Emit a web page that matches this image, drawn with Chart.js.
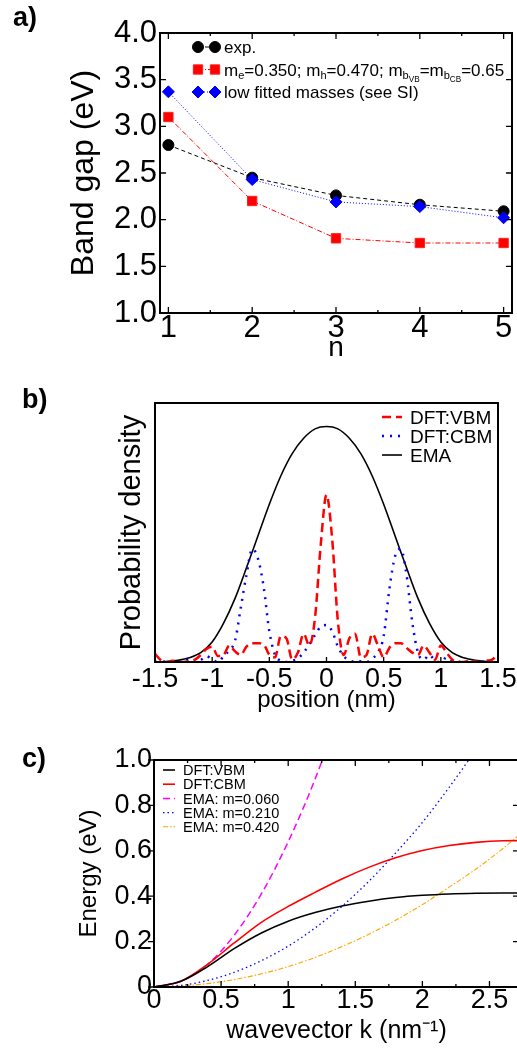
<!DOCTYPE html>
<html>
<head>
<meta charset="utf-8">
<script src="https://cdn.jsdelivr.net/npm/chart.js@4.4.1/dist/chart.umd.min.js"></script>
<style>
  html, body { margin: 0; padding: 0; background: #fff; overflow: hidden; }
  #page { position: relative; width: 517px; height: 1053px; overflow: hidden; }
  canvas { position: absolute; left: 0; }
  .tag { position: absolute; font: bold 27px 'Liberation Sans', Arial, sans-serif; line-height: 27px; }
</style>
</head>
<body>
<div id="page">
  <canvas id="bandgap" width="540" height="370" style="top:0"></canvas>
  <canvas id="density" width="540" height="370" style="top:350px"></canvas>
  <canvas id="dispersion" width="540" height="333" style="top:720px"></canvas>
  <div class="tag" style="left:13px;top:4px">a)</div>
  <div class="tag" style="left:22px;top:386px">b)</div>
  <div class="tag" style="left:22px;top:745px">c)</div>
</div>
<script>
// --- panel a: band gap vs n
const nValues = [1, 2, 3, 4, 5];
const expGap = [2.80, 2.45, 2.26, 2.16, 2.09];
const fitGap = [3.10, 2.20, 1.80, 1.75, 1.75];
const lowGap = [3.37, 2.43, 2.19, 2.14, 2.02];
const nTicks = [1, 2, 3, 4, 5];
const gapTicks = [1.0, 1.5, 2.0, 2.5, 3.0, 3.5, 4.0];
const fitLabel = [['m', 0], ['e', 1], ['=0.350; m', 0], ['h', 1], ['=0.470; m', 0], ['b', 1], ['VB', 2],
  ['=m', 0], ['b', 1], ['CB', 2], ['=0.65', 0]];

// --- panel b: probability density vs position
const emaPos = [-1.5, -1.4, -1.3, -1.2, -1.1, -1.0, -0.9, -0.8, -0.7, -0.6, -0.5, -0.4, -0.3, -0.2, -0.1, 0,
  0.1, 0.2, 0.3, 0.4, 0.5, 0.6, 0.7, 0.8, 0.9, 1.0, 1.1, 1.2, 1.3, 1.4, 1.5];
const emaDensity = [0.0, 0.002, 0.007, 0.018, 0.04, 0.085, 0.165, 0.27, 0.4, 0.535, 0.67, 0.79, 0.885, 0.95, 0.99, 1.0,
  0.99, 0.95, 0.885, 0.79, 0.67, 0.535, 0.4, 0.27, 0.165, 0.085, 0.04, 0.018, 0.007, 0.002, 0.0];
const dftPos = [-1.5, -1.45, -1.4, -1.35, -1.3, -1.25, -1.2, -1.15, -1.1, -1.05,
  -1.0, -0.95, -0.9, -0.85, -0.8, -0.75, -0.7, -0.65, -0.6, -0.55,
  -0.5, -0.45, -0.4, -0.35, -0.3, -0.25, -0.2, -0.15, -0.1, -0.05,
  0,
  0.05, 0.1, 0.15, 0.2, 0.25, 0.3, 0.35, 0.4, 0.45, 0.5,
  0.55, 0.6, 0.65, 0.7, 0.75, 0.8, 0.85, 0.9, 0.95, 1.0,
  1.05, 1.1, 1.15, 1.2, 1.25, 1.3, 1.35, 1.4, 1.45, 1.5];
const vbmDensity = [0.035, 0.008, 0.0, 0.005, 0.003, 0.0, 0.004, 0.01, 0.03, 0.055,
  0.065, 0.025, 0.03, 0.07, 0.045, 0.03, 0.065, 0.08, 0.08, 0.075,
  0.03, 0.02, 0.11, 0.10, 0.01, 0.04, 0.12, 0.07, 0.19, 0.5,
  0.71,
  0.52, 0.17, 0.03, 0.10, 0.12, 0.02, 0.03, 0.12, 0.07, 0.02,
  0.06, 0.08, 0.08, 0.06, 0.04, 0.03, 0.07, 0.04, 0.01, 0.07,
  0.04, 0.01, 0.002, 0.0, 0.004, 0.002, 0.0, 0.005, 0.01, 0.035];
const cbmDensity = [0.0, 0.0, 0.002, 0.0, 0.004, 0.0, 0.012, 0.0, 0.008, 0.025,
  0.01, 0.0, 0.025, 0.05, 0.09, 0.23, 0.37, 0.48, 0.44, 0.32,
  0.13, 0.03, 0.005, 0.0, 0.005, 0.015, 0.04, 0.075, 0.115, 0.15,
  0.157,
  0.13, 0.065, 0.025, 0.008, 0.0, 0.003, 0.0, 0.015, 0.04, 0.11,
  0.31, 0.45, 0.48, 0.37, 0.17, 0.04, 0.01, 0.03, 0.005, 0.0,
  0.02, 0.005, 0.0, 0.004, 0.0, 0.0, 0.003, 0.0, 0.0, 0.0];
const posTicks = [-1.5, -1, -0.5, 0, 0.5, 1, 1.5];

// --- panel c: energy vs wavevector
const kGrid = [0, 0.2, 0.4, 0.6, 0.8, 1.0, 1.2, 1.4, 1.6, 1.8, 2.0, 2.2, 2.4, 2.6, 2.8];
const vbmEnergy = [0, 0.025, 0.09, 0.17, 0.238, 0.29, 0.328, 0.357, 0.378, 0.394, 0.404, 0.41, 0.413, 0.414, 0.414];
const cbmEnergy = [0, 0.025, 0.10, 0.195, 0.285, 0.355, 0.417, 0.476, 0.527, 0.569, 0.601, 0.623, 0.637, 0.644, 0.645];
const ema060 = [0, 0.025, 0.10, 0.23, 0.41, 0.64, 0.915, 1.245];
const ema210 = [0, 0.007, 0.029, 0.065, 0.116, 0.18, 0.26, 0.355, 0.465, 0.59, 0.725, 0.88, 1.045];
const ema420 = [0, 0.004, 0.015, 0.033, 0.058, 0.09, 0.13, 0.178, 0.232, 0.294, 0.363, 0.44, 0.52, 0.61, 0.71];
const kTicks = [0, 0.5, 1, 1.5, 2, 2.5];
const energyTicks = [0, 0.2, 0.4, 0.6, 0.8, 1.0];

const FONT = "'Liberation Sans', Arial, sans-serif";
Chart.defaults.font.family = FONT;
Chart.defaults.color = '#000';
Chart.defaults.animation = false;
Chart.defaults.events = [];

const SUB_SCALE = [1, 0.65, 0.48];
const SUB_DROP = [0, 3, 6];

function pts(xs, ys) {
  return ys.map((v, i) => ({ x: xs[i], y: v }));
}

function fixedTicks(list) {
  return (s) => { s.ticks = list.map((value) => ({ value })); };
}

// box around the plot area with inward tick marks
const framePlugin = {
  id: 'frame',
  afterDatasetsDraw(chart, args, o) {
    const { ctx, chartArea: a } = chart;
    const { x, y } = chart.scales;
    const mark = (px, py, dx, dy) => { ctx.moveTo(px, py); ctx.lineTo(px + dx, py + dy); };
    ctx.save();
    ctx.strokeStyle = '#000';
    ctx.lineWidth = 1.3;
    ctx.beginPath();
    x.ticks.forEach((t, i) => {
      const px = x.getPixelForValue(t.value);
      mark(px, a.bottom, 0, -o.len);
      if (o.top) mark(px, a.top, 0, o.len);
      const next = x.ticks[i + 1];
      if (o.minor && next) {
        const pm = x.getPixelForValue((t.value + next.value) / 2);
        mark(pm, a.bottom, 0, -o.minorLen);
        if (o.top) mark(pm, a.top, 0, o.minorLen);
      }
    });
    if (o.yTicks) {
      y.ticks.forEach((t) => {
        const py = y.getPixelForValue(t.value);
        mark(a.left, py, o.leftOut ? -o.len : o.len, 0);
        mark(a.right, py, -o.len, 0);
      });
    }
    ctx.stroke();
    ctx.lineWidth = o.border;
    ctx.strokeRect(a.left, a.top, a.right - a.left, a.bottom - a.top);
    ctx.restore();
  },
};

// in-plot key: line sample (optionally with two markers) and text with sub/subscripts
const keyPlugin = {
  id: 'key',
  afterDraw(chart, args, o) {
    const ctx = chart.ctx;
    ctx.save();
    chart.data.datasets.forEach((ds, i) => {
      const y = o.y + i * o.gap;
      ctx.strokeStyle = ds.borderColor;
      ctx.lineWidth = ds.borderWidth;
      ctx.setLineDash(ds.borderDash || []);
      ctx.beginPath();
      ctx.moveTo(o.x, y);
      ctx.lineTo(o.x + o.w, y);
      ctx.stroke();
      ctx.setLineDash([]);
      if (o.markers) {
        ctx.fillStyle = ds.pointBackgroundColor;
        ctx.strokeStyle = ds.pointBorderColor;
        ctx.lineWidth = 1;
        [o.x, o.x + o.w].forEach((px) => Chart.helpers.drawPoint(ctx,
          { pointStyle: ds.pointStyle, radius: ds.pointRadius, rotation: 0, borderWidth: 1 }, px, y));
      }
      let tx = o.x + o.w + o.pad;
      ctx.fillStyle = '#000';
      ctx.textBaseline = 'alphabetic';
      (ds.rich || [[ds.label, 0]]).forEach(([s, lv]) => {
        ctx.font = `${o.size * SUB_SCALE[lv]}px ${FONT}`;
        ctx.fillText(s, tx, y + o.size * 0.36 + SUB_DROP[lv]);
        tx += ctx.measureText(s).width;
      });
    });
    ctx.restore();
  },
};

const noGrid = { display: false, drawTicks: false };
const noBorder = { display: false };

// a) band gap
new Chart(document.getElementById('bandgap'), {
  type: 'line',
  plugins: [framePlugin, keyPlugin],
  data: {
    datasets: [
      { label: 'exp.', data: pts(nValues, expGap), borderColor: '#000', borderWidth: 1, borderDash: [4, 3],
        pointStyle: 'circle', pointRadius: 5.5, pointBackgroundColor: '#000', pointBorderColor: '#000', order: 3 },
      { label: 'me=0.350; mh=0.470; mbVB=mbCB=0.65', rich: fitLabel, data: pts(nValues, fitGap),
        borderColor: '#ff0000', borderWidth: 1, borderDash: [5, 2, 1, 2],
        pointStyle: 'rect', pointRadius: 6.6, pointBackgroundColor: '#ff0000', pointBorderColor: '#ff2020', order: 2 },
      { label: 'low fitted masses (see SI)', data: pts(nValues, lowGap), borderColor: '#0000ff', borderWidth: 1,
        borderDash: [1, 2], pointStyle: 'rectRot', pointRadius: 6, pointBackgroundColor: '#0000ff',
        pointBorderColor: '#0000ff', order: 1 },
    ],
  },
  options: {
    responsive: false,
    devicePixelRatio: 1,
    layout: { padding: { top: 33, right: 28, left: 0, bottom: 0 } },
    plugins: {
      legend: { display: false },
      tooltip: { enabled: false },
      frame: { border: 2, len: 6, minorLen: 3, minor: true, top: true, yTicks: true },
      key: { x: 198, y: 47, gap: 22.5, w: 17, pad: 9, size: 17, markers: true },
    },
    scales: {
      x: {
        type: 'linear', min: 0.9, max: 5.1, grid: noGrid, border: noBorder,
        afterBuildTicks: fixedTicks(nTicks),
        afterFit: (s) => { s.height = 57; },
        ticks: { font: { size: 31, lineHeight: 1 }, padding: 0, maxRotation: 0, autoSkip: false },
        title: { display: true, text: 'n', font: { size: 28, lineHeight: 1 }, padding: { bottom: 8 } },
      },
      y: {
        type: 'linear', min: 1, max: 4, grid: noGrid, border: noBorder,
        afterBuildTicks: fixedTicks(gapTicks),
        afterFit: (s) => { s.width = 160; },
        ticks: { font: { size: 31, lineHeight: 1 }, padding: 3, callback: (v) => v.toFixed(1) },
        title: { display: true, text: 'Band gap (eV)', font: { size: 32, lineHeight: 1 }, padding: { top: 68 } },
      },
    },
  },
});

// b) probability density
new Chart(document.getElementById('density'), {
  type: 'line',
  plugins: [framePlugin, keyPlugin],
  data: {
    datasets: [
      { label: 'DFT:VBM', data: pts(dftPos, vbmDensity), borderColor: '#ff0000', borderWidth: 2.5,
        borderDash: [9, 5], pointRadius: 0, cubicInterpolationMode: 'monotone' },
      { label: 'DFT:CBM', data: pts(dftPos, cbmDensity), borderColor: '#0000ff', borderWidth: 2.5,
        borderDash: [2, 6], pointRadius: 0, cubicInterpolationMode: 'monotone' },
      { label: 'EMA', data: pts(emaPos, emaDensity), borderColor: '#000', borderWidth: 1.6,
        pointRadius: 0, cubicInterpolationMode: 'monotone' },
    ],
  },
  options: {
    responsive: false,
    devicePixelRatio: 1,
    layout: { padding: { top: 53, right: 42, left: 0, bottom: 0 } },
    plugins: {
      legend: { display: false },
      tooltip: { enabled: false },
      frame: { border: 2, len: 5, minor: false, top: false, yTicks: false },
      key: { x: 382, y: 67, gap: 19, w: 20, pad: 8, size: 19 },
    },
    scales: {
      x: {
        type: 'linear', min: -1.5, max: 1.5, grid: noGrid, border: noBorder,
        afterBuildTicks: fixedTicks(posTicks),
        afterFit: (s) => { s.height = 58; },
        ticks: { font: { size: 27, lineHeight: 1 }, padding: 4, maxRotation: 0, autoSkip: false,
          callback: (v) => String(v) },
        title: { display: true, text: 'position (nm)', font: { size: 24, lineHeight: 1 }, padding: { bottom: 8 } },
      },
      y: {
        type: 'linear', min: 0, max: 1.1, grid: noGrid, border: noBorder,
        afterFit: (s) => { s.width = 155; },
        ticks: { display: false },
        title: { display: true, text: 'Probability density', font: { size: 29, lineHeight: 1 },
          padding: { top: 117 } },
      },
    },
  },
});

// c) dispersion
new Chart(document.getElementById('dispersion'), {
  type: 'line',
  plugins: [framePlugin, keyPlugin],
  data: {
    datasets: [
      { label: 'DFT:VBM', data: pts(kGrid, vbmEnergy), borderColor: '#000', borderWidth: 1.6,
        pointRadius: 0, cubicInterpolationMode: 'monotone' },
      { label: 'DFT:CBM', data: pts(kGrid, cbmEnergy), borderColor: '#ff0000', borderWidth: 1.6,
        pointRadius: 0, cubicInterpolationMode: 'monotone' },
      { label: 'EMA: m=0.060', data: pts(kGrid, ema060), borderColor: '#ff00ff', borderWidth: 1.5,
        borderDash: [7, 4], pointRadius: 0, cubicInterpolationMode: 'monotone' },
      { label: 'EMA: m=0.210', data: pts(kGrid, ema210), borderColor: '#0000ff', borderWidth: 1.3,
        borderDash: [1.5, 3], pointRadius: 0, cubicInterpolationMode: 'monotone' },
      { label: 'EMA: m=0.420', data: pts(kGrid, ema420), borderColor: '#ffa500', borderWidth: 1.1,
        borderDash: [5, 2, 1.5, 2], pointRadius: 0, cubicInterpolationMode: 'monotone' },
    ],
  },
  options: {
    responsive: false,
    devicePixelRatio: 1,
    layout: { padding: { top: 40, right: 21, left: 0, bottom: 0 } },
    plugins: {
      legend: { display: false },
      tooltip: { enabled: false },
      frame: { border: 2, len: 6, minorLen: 3, minor: true, top: true, yTicks: true, leftOut: true },
      key: { x: 163, y: 50, gap: 14.2, w: 12, pad: 8, size: 14.5 },
    },
    scales: {
      x: {
        type: 'linear', min: 0, max: 2.72, grid: noGrid, border: noBorder,
        afterBuildTicks: fixedTicks(kTicks),
        afterFit: (s) => { s.height = 66; },
        ticks: { font: { size: 27, lineHeight: 1 }, padding: 0, maxRotation: 0, autoSkip: false,
          callback: (v) => String(v) },
        title: { display: true, text: 'wavevector k (nm\u207B\u00B9)', font: { size: 25, lineHeight: 1 },
          padding: { bottom: 9 } },
      },
      y: {
        type: 'linear', min: 0, max: 1, grid: noGrid, border: noBorder,
        afterBuildTicks: fixedTicks(energyTicks),
        afterFit: (s) => { s.width = 154; },
        ticks: { font: { size: 27, lineHeight: 1 }, padding: 2, callback: (v) => (v === 0 ? '0' : v.toFixed(1)) },
        title: { display: true, text: 'Energy (eV)', font: { size: 24, lineHeight: 1 }, padding: { top: 77 } },
      },
    },
  },
});
</script>
</body>
</html>
